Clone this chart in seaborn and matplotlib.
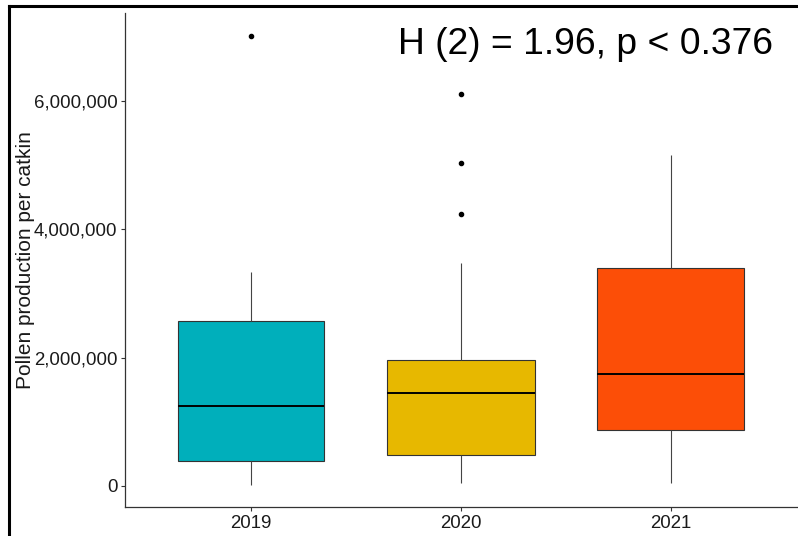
import matplotlib
matplotlib.use("Agg")
import matplotlib.pyplot as plt
from matplotlib.lines import Line2D
from matplotlib.ticker import FuncFormatter
import numpy as np
import pandas as pd
import seaborn as sns

# Pollen counts per catkin, by sampling year
years = ["2019", "2020", "2021"]
box_colors = ["#00AFBB", "#E7B800", "#FC4E07"]
pollen_2019 = [20000, 385000, 385000, 1247000, 1247000, 2567000, 2567000, 3331000, 7019000]
pollen_2020 = [42000, 480000, 480000, 480000, 480000, 1445000, 1445000, 1445000, 1445000,
               1960000, 1960000, 1960000, 1960000, 3480000, 4230000, 5030000, 6110000]
pollen_2021 = [42000, 873000, 1741000, 3394000, 5149000]
y_ticks = [0, 2000000, 4000000, 6000000]
stat_label = "H (2) = 1.96, p < 0.376"
y_title = "Pollen production per catkin"

df = pd.DataFrame({
    "year": (["2019"] * len(pollen_2019) + ["2020"] * len(pollen_2020)
             + ["2021"] * len(pollen_2021)),
    "pollen": pollen_2019 + pollen_2020 + pollen_2021,
})

sns.set_theme(style="white")
plt.rcParams["font.family"] = ["Liberation Sans", "DejaVu Sans"]

W, H = 798, 536
fig = plt.figure(figsize=(W / 100, H / 100), dpi=100)
ax = fig.add_axes([125 / W, (H - 507) / H, 672 / W, 494 / H])

edge = "#333333"
sns.boxplot(
    data=df, x="year", y="pollen", hue="year", order=years, hue_order=years,
    palette=box_colors, saturation=1, legend=False, width=0.7, ax=ax,
    linewidth=0.8, linecolor=edge, showcaps=False,
    medianprops=dict(color="black", linewidth=1.4),
    whiskerprops=dict(color="#444444", linewidth=0.8),
    flierprops=dict(marker="o", markersize=3, markerfacecolor="black",
                    markeredgecolor="black"),
)

ax.set_xlim(-0.6, 2.6)
ax.set_ylim(-330000, 7370000)
ax.set_yticks(y_ticks)
ax.yaxis.set_major_formatter(FuncFormatter(lambda v, p: f"{v:,.0f}"))

for side in ["top", "right"]:
    ax.spines[side].set_visible(False)
for side in ["left", "bottom"]:
    ax.spines[side].set_color(edge)
    ax.spines[side].set_linewidth(0.9)

ax.tick_params(axis="both", which="major", length=3, width=0.8, color=edge,
               labelsize=13.4, labelcolor="#1a1a1a", pad=2.5, left=True, bottom=True)

ax.set_xlabel("")
ax.set_ylabel(y_title, fontsize=15, color="#1a1a1a", va="center")
ax.yaxis.set_label_coords((25 - 125) / 672, 0.5)

fig.text(398 / W, 1 - 54 / H, stat_label, fontsize=26.8, color="black",
         ha="left", va="baseline")

# outer frame along the left and top edges
fig.add_artist(Line2D([9 / W, 9 / W], [0, 1 - 6 / H], transform=fig.transFigure,
                      color="black", linewidth=2.2, solid_capstyle="projecting"))
fig.add_artist(Line2D([9 / W, 1], [1 - 6 / H, 1 - 6 / H], transform=fig.transFigure,
                      color="black", linewidth=2.2, solid_capstyle="projecting"))

fig.savefig("out.png", dpi=100, facecolor="white")
